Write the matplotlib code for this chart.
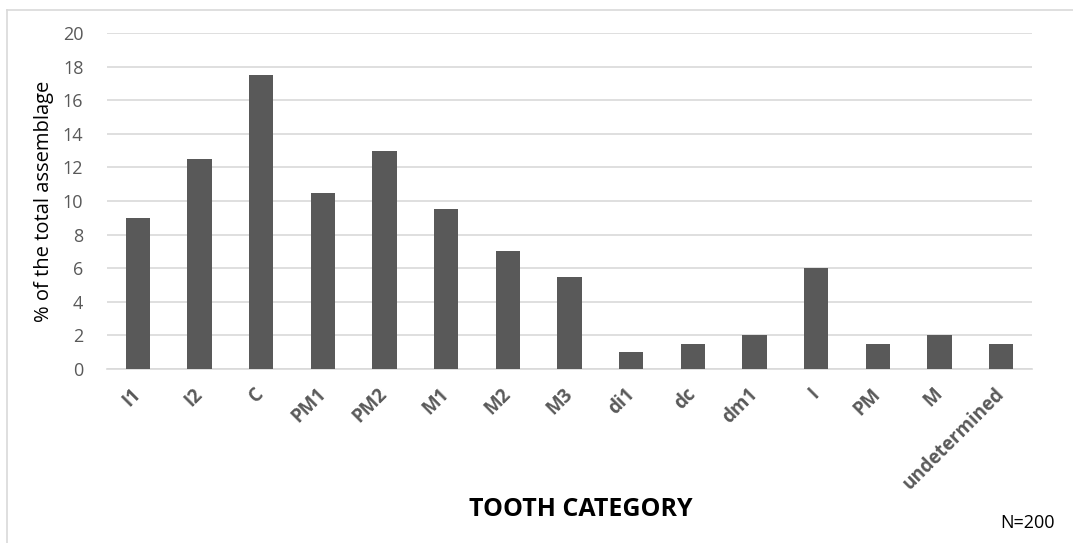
import matplotlib
matplotlib.use("Agg")
import matplotlib.pyplot as plt
from matplotlib.lines import Line2D

categories = ["I1", "I2", "C", "PM1", "PM2", "M1", "M2", "M3", "di1", "dc",
              "dm1", "I", "PM", "M", "undetermined"]
percent = [9, 12.5, 17.5, 10.5, 13, 9.5, 7, 5.5, 1, 1.5, 2, 6, 1.5, 2, 1.5]
y_ticks = [0, 2, 4, 6, 8, 10, 12, 14, 16, 18, 20]

plt.rcParams["font.family"] = ["Open Sans", "DejaVu Sans"]

W, H = 1073, 543
fig = plt.figure(figsize=(W / 100, H / 100), dpi=100)
ax = fig.add_axes([107 / W, 1 - 369 / H, 925 / W, 336 / H])

x = list(range(len(categories)))
ax.bar(x, percent, width=0.39, color="#595959", zorder=3)

ax.set_xlim(-0.5, len(categories) - 0.5)
ax.set_ylim(0, 20)
ax.set_yticks(y_ticks)
ax.set_xticks(x)
ax.set_xticklabels(categories, rotation=45, ha="right", va="center",
                   rotation_mode="anchor", fontsize=13.5, fontweight="bold",
                   color="#595959")
ax.tick_params(axis="y", labelsize=13, labelcolor="#595959", length=0, pad=17)
ax.tick_params(axis="x", length=0, pad=16)
ax.grid(axis="y", color="#d9d9d9", linewidth=1.2, zorder=0)
for s in ["top", "right", "left"]:
    ax.spines[s].set_visible(False)
ax.spines["bottom"].set_color("#d9d9d9")
ax.spines["bottom"].set_linewidth(1.2)

ax.set_ylabel("% of the total assemblage", fontsize=14.5, color="black", labelpad=6)
fig.text(581 / W, 1 - 510 / H, "TOOTH CATEGORY", ha="center", va="center",
         fontsize=18, fontweight="bold", color="black")
fig.text(1055 / W, 1 - 523 / H, "N=200", ha="right", va="center",
         fontsize=13, color="black")

# chart frame (only top and left edges are visible in the crop)
fig.add_artist(Line2D([7 / W, 7 / W], [0, 1 - 10 / H], transform=fig.transFigure,
                      color="#d9d9d9", linewidth=1.2))
fig.add_artist(Line2D([7 / W, 1], [1 - 10 / H, 1 - 10 / H], transform=fig.transFigure,
                      color="#d9d9d9", linewidth=1.2))

fig.savefig("out.png", dpi=100)
